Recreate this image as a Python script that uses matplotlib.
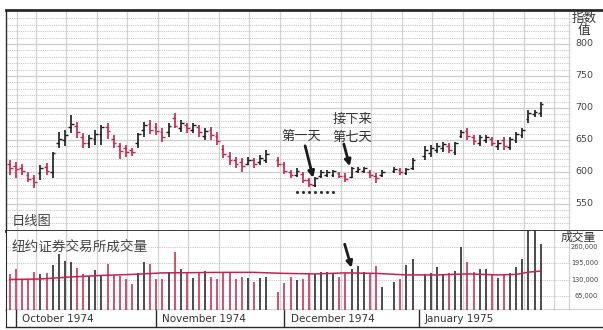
import numpy as np
import matplotlib
matplotlib.use("Agg")
import matplotlib.pyplot as plt

plt.rcParams['font.family'] = ['Noto Sans CJK SC', 'DejaVu Sans']

# daily bars, one slot per weekday from 30 Sep 1974 (None = market closed)
high = [619, 616, 612, 600, 595, 611, 614, 631, 662, 665,
        689, 678, 661, 658, 665, 673, 676, 658, 645, 642,
        637, 661, 678, 681, 676, 668, 677, 692, 681, 677,
        677, 673, 669, 670, 662, 642, 631, 623, 622, 623,
        622, 627, 634, None, 623, 616, 603, 606, 600, 591,
        592, 603, 603, 603, 600, 598, 608, 608, 608, 603,
        598, 603, None, 608, 606, 606, 622, None, 640, 642,
        646, 647, 645, 647, 666, 668, 658, 658, 658, 655,
        650, 655, 655, 663, 668, 697, 697, 710]
low = [595, 591, 595, 584, 575, 587, 595, 591, 637, 640,
       661, 653, 637, 637, 642, 642, 652, 637, 620, 623,
       625, 637, 655, 660, 658, 647, 655, 669, 662, 661,
       661, 655, 650, 650, 642, 622, 611, 606, 600, 611,
       606, 611, 614, None, 608, 597, 591, 592, 583, 577,
       577, 591, 592, 592, 591, 584, 591, 598, 598, 591,
       583, 592, None, 598, 595, 595, 603, None, 619, 624,
       629, 632, 629, 627, 653, 650, 642, 640, 645, 640,
       634, 635, 634, 645, 653, 676, 686, 686]
opn = [612, 610, 606, 596, 590, 598, 608, 600, 645, 650,
       670, 672, 655, 645, 652, 660, 670, 652, 640, 638,
       635, 645, 665, 675, 670, 662, 662, 685, 668, 673,
       666, 670, 657, 665, 656, 636, 625, 618, 615, 613,
       618, 615, 618, None, 618, 612, 600, 596, 597, 587,
       580, 594, 595, 595, 598, 594, 592, 601, 602, 600,
       594, 595, None, 601, 603, 599, 606, None, 625, 630,
       634, 637, 641, 632, 657, 664, 655, 646, 650, 652,
       640, 650, 639, 650, 658, 683, 690, 692]
close = [606, 604, 601, 589, 584, 607, 602, 629, 651, 658,
         675, 663, 645, 653, 660, 671, 664, 645, 633, 632,
         632, 660, 673, 666, 664, 655, 672, 672, 676, 668,
         674, 662, 664, 658, 648, 628, 618, 613, 610, 619,
         612, 622, 628, None, 613, 601, 596, 602, 588, 581,
         590, 600, 600, 601, 594, 589, 606, 605, 606, 596,
         590, 600, None, 605, 600, 604, 619, None, 634, 637,
         641, 643, 635, 645, 663, 656, 648, 654, 655, 645,
         646, 641, 652, 660, 666, 692, 694, 706]
# NYSE volume, thousands of shares
vol = [152, 172, 133, 133, 163, 154, 159, 190, 231, 205,
       201, 176, 152, 147, 169, 150, 193, 149, 147, 133,
       113, 159, 202, 192, 134, 133, 163, 239, 175, 160,
       139, 163, 165, 143, 133, 160, 160, 134, 143, 137,
       121, 139, 143, None, 81, 117, 141, 131, 134, 152,
       152, 160, 160, 156, 143, 156, 173, 185, 163, 156,
       185, 104, None, 123, 134, 189, 212, None, 154, 156,
       180, 154, 159, 167, 260, 200, 163, 172, 175, 155,
       139, 152, 159, 182, 211, 340, 340, 272]
# volume average line, read at a few days
ma_idx = [0, 5, 10, 15, 20, 25, 30, 35, 40, 45, 50, 55, 60, 65, 70, 75, 80, 83, 85, 87]
ma_val = [132, 134, 142, 148, 152, 158, 159, 160, 160, 156, 154, 158, 156, 150, 150, 154, 150, 152, 161, 165]

price_ticks = [800, 750, 700, 650, 600, 550]
vol_ticks = [260, 195, 130, 65]
month_start = [1, 24, 45, 67]
month_names = ["October 1974", "November 1974", "December 1974", "January 1975"]
dot_bars = [47, 48, 49, 50, 51, 52, 53]
dot_level = 569
day1, day7 = 50, 56

high, low, opn, close, vol = [np.array(a, dtype=float) for a in (high, low, opn, close, vol)]
x = np.arange(len(high))
ok = ~np.isnan(high)
RED, BLK = '#c4234d', '#1a1a1a'
colors = np.where(close >= opn, BLK, RED)

fig = plt.figure(figsize=(6.03, 3.30), dpi=100)
W, H = 603, 330
def box(x0, y0, x1, y1):
    return [x0 / W, 1 - y1 / H, (x1 - x0) / W, (y1 - y0) / H]

ax = fig.add_axes(box(6, 10, 603, 231))
axv = fig.add_axes(box(6, 231, 603, 310), sharex=ax)
axs = fig.add_axes(box(6, 310, 603, 327), sharex=ax)

xmin, xmax = (6 - 10) / 6.1, (603 - 10) / 6.1
xgrid_end = (570 - 10) / 6.1
ax.set_xlim(xmin, xmax)
ax.set_ylim(800 - 187 / 0.64, 800 + 34 / 0.64)
axv.set_ylim(11.8, 323)
axs.set_ylim(0, 1)

vgrid = [1.15] + [4.26 + 5 * k for k in range(18)] + [91.6]
for a in (ax, axv):
    for g in vgrid:
        a.axvline(g, color='#d2d2d2', lw=0.9, zorder=0)
for p in range(510, 850, 10):
    if p % 50 == 0:
        ax.hlines(p, xmin, xgrid_end, color='#cdcdcd', lw=0.9, zorder=0)
    else:
        ax.hlines(p, xmin, xgrid_end, color='#b5b5b5', lw=0.6, linestyles=(0, (1, 1.2)), zorder=0)
for v in vol_ticks:
    axv.hlines(v, xmin, xgrid_end, color='#b5b5b5', lw=0.6, linestyles=(0, (1, 1.2)), zorder=0)

# price bars
ax.vlines(x[ok], low[ok], high[ok], colors=colors[ok], lw=1.2)
ax.hlines(opn[ok], x[ok] - 0.45, x[ok], colors=colors[ok], lw=1.0)
ax.hlines(close[ok], x[ok], x[ok] + 0.45, colors=colors[ok], lw=1.0)
ax.scatter(dot_bars, [dot_level] * len(dot_bars), s=1.5, color='#333333', zorder=3)

# volume bars
axv.vlines(x[ok], 0, vol[ok], colors=colors[ok], lw=1.1)
axv.plot(ma_idx, ma_val, color=RED, lw=1.1)

for a in (ax, axv, axs):
    a.set_xticks([])
    a.set_yticks([])
    a.spines['right'].set_visible(False)
    for s in a.spines.values():
        s.set_color('#2a2a2a')
ax.spines['top'].set_linewidth(2.0)
ax.spines['bottom'].set_linewidth(2.0)
ax.spines['left'].set_linewidth(1.0)
axv.spines['top'].set_visible(False)
axv.spines['bottom'].set_linewidth(1.0)
axs.spines['top'].set_visible(False)
axs.spines['bottom'].set_linewidth(1.0)

for m, name in zip(month_start, month_names):
    axs.axvline(m, color='#2a2a2a', lw=1.0)
    axs.text(m + 1.0, 0.45, name, fontsize=7.5, color='#333333', va='center', ha='left',
             family='DejaVu Sans')

ty = ax.get_yaxis_transform()
for p in price_ticks:
    ax.text(0.968, p, str(p), transform=ty, fontsize=6.8, color='#444444',
            ha='center', va='center', family='DejaVu Sans')
tv = axv.get_yaxis_transform()
for v in vol_ticks:
    axv.text(0.992, v, f"{v * 1000:,}", transform=tv, fontsize=4.8, color='#444444',
             ha='right', va='center', family='DejaVu Sans')

ax.text(0.968, 0.962, "指数", transform=ax.transAxes, fontsize=9, color='#333333', ha='center', va='center')
ax.text(0.968, 0.905, "值", transform=ax.transAxes, fontsize=9, color='#333333', ha='center', va='center')
axv.text(0.958, 0.925, "成交量", transform=axv.transAxes, fontsize=8.5, color='#333333', ha='center', va='center')
ax.text(0.01, 0.045, "日线图", transform=ax.transAxes, fontsize=9.5, color='#444444', ha='left', va='center')
axv.text(0.01, 0.80, "纽约证券交易所成交量", transform=axv.transAxes, fontsize=9.8, color='#444444',
         ha='left', va='center')

fig.text(301 / W, 1 - 136 / H, "第一天", fontsize=9.5, color='#333333', ha='center', va='center')
fig.text(352 / W, 1 - 119 / H, "接下来", fontsize=9.5, color='#333333', ha='center', va='center')
fig.text(352 / W, 1 - 137 / H, "第七天", fontsize=9.5, color='#333333', ha='center', va='center')

arrow = dict(arrowstyle='-|>', lw=2.0, color=BLK, mutation_scale=9, shrinkA=0, shrinkB=0)
ax.annotate("", xy=(day1 - 0.3, high[day1] - 1), xytext=(-5.8, 23), textcoords='offset points', arrowprops=arrow)
ax.annotate("", xy=(day7 - 0.3, high[day7] + 1), xytext=(-4.3, 16), textcoords='offset points', arrowprops=arrow)
axv.annotate("", xy=(day7, vol[day7] + 5), xytext=(-5, 17), textcoords='offset points', arrowprops=arrow)

fig.savefig("out.png", dpi=100)
